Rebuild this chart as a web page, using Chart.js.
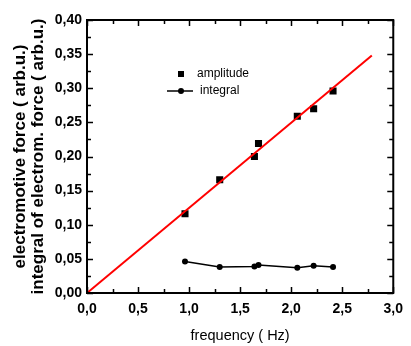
<!DOCTYPE html>
<html>
<head>
<meta charset="utf-8">
<script src="https://cdn.jsdelivr.net/npm/chart.js@4.4.1/dist/chart.umd.min.js"></script>
<style>
  html, body { margin: 0; padding: 0; background: #fff; }
  canvas { display: block; }
</style>
</head>
<body>
<canvas id="chart" width="411" height="346"></canvas>
<script>
// measured points
const freq = [0.96, 1.30, 1.64, 1.68, 2.06, 2.22, 2.41];
const amplitude = [0.116, 0.166, 0.200, 0.219, 0.259, 0.270, 0.296];
const integral = [0.046, 0.038, 0.039, 0.041, 0.037, 0.040, 0.038];
// linear fit of amplitude
const fitX = [0, 2.79];
const fitY = [0, 0.348];

const FONT = "'Liberation Sans', Arial, sans-serif";
Chart.defaults.font.family = FONT;
Chart.defaults.color = '#000';

const comma = (v, d) => v.toFixed(d).replace('.', ',');

// frame with inward ticks on all four sides + legend inside the plot
const framePlugin = {
  id: 'frame',
  afterDraw(chart) {
    const { ctx, chartArea: a, scales: { x, y } } = chart;
    ctx.save();
    ctx.strokeStyle = '#000';
    ctx.lineWidth = 1.5;
    for (let v = 0; v <= 3.0001; v += 0.25) {
      const px = Math.round(x.getPixelForValue(v)) + 0.5;
      const len = Math.abs(v / 0.5 - Math.round(v / 0.5)) < 1e-6 ? 6 : 4;
      ctx.beginPath();
      ctx.moveTo(px, a.bottom); ctx.lineTo(px, a.bottom - len);
      ctx.moveTo(px, a.top); ctx.lineTo(px, a.top + len);
      ctx.stroke();
    }
    for (let v = 0; v <= 0.40001; v += 0.025) {
      const py = Math.round(y.getPixelForValue(v)) + 0.5;
      const len = Math.abs(v / 0.05 - Math.round(v / 0.05)) < 1e-6 ? 6 : 4;
      ctx.beginPath();
      ctx.moveTo(a.left, py); ctx.lineTo(a.left + len, py);
      ctx.moveTo(a.right, py); ctx.lineTo(a.right - len, py);
      ctx.stroke();
    }
    ctx.lineWidth = 2;
    ctx.strokeRect(a.left, a.top, a.right - a.left, a.bottom - a.top);

    // legend
    ctx.fillStyle = '#000';
    ctx.fillRect(178, 71, 6, 6);
    ctx.lineWidth = 1.5;
    ctx.beginPath();
    ctx.moveTo(167, 91); ctx.lineTo(193, 91);
    ctx.stroke();
    ctx.beginPath();
    ctx.arc(181, 91, 3, 0, Math.PI * 2);
    ctx.fill();
    ctx.font = '12px ' + FONT;
    ctx.textBaseline = 'middle';
    ctx.fillText('amplitude', 197, 74);
    ctx.fillText('integral', 200, 91);
    ctx.restore();
  }
};

new Chart(document.getElementById('chart'), {
  type: 'scatter',
  data: {
    datasets: [
      {
        label: 'fit',
        data: fitX.map((v, i) => ({ x: v, y: fitY[i] })),
        showLine: true,
        borderColor: '#ff0000',
        borderWidth: 2,
        pointRadius: 0
      },
      {
        label: 'amplitude',
        data: freq.map((v, i) => ({ x: v, y: amplitude[i] })),
        pointStyle: 'rect',
        pointRadius: 5,
        backgroundColor: '#000',
        borderColor: '#000',
        borderWidth: 0
      },
      {
        label: 'integral',
        data: freq.map((v, i) => ({ x: v, y: integral[i] })),
        showLine: true,
        borderColor: '#000',
        borderWidth: 1.5,
        pointRadius: 3,
        backgroundColor: '#000',
        pointBorderWidth: 0
      }
    ]
  },
  options: {
    responsive: false,
    animation: false,
    devicePixelRatio: 1,
    layout: { padding: { top: 20, right: 12, left: 0, bottom: 0 } },
    plugins: { legend: { display: false }, tooltip: { enabled: false } },
    scales: {
      x: {
        type: 'linear', min: 0, max: 3,
        afterFit: s => { s.height = 53; },
        grid: { display: false, drawTicks: false },
        border: { display: false },
        ticks: {
          stepSize: 0.5, padding: 8,
          font: { size: 14, weight: 'bold' },
          callback: v => comma(v, 1)
        },
        title: {
          display: true, text: 'frequency ( Hz)',
          font: { size: 14.5 }, padding: { top: 0, bottom: 1 }
        }
      },
      y: {
        type: 'linear', min: 0, max: 0.4,
        afterFit: s => { s.width = 87; },
        grid: { display: false, drawTicks: false },
        border: { display: false },
        ticks: {
          stepSize: 0.05, padding: 5,
          font: { size: 14, weight: 'bold' },
          callback: v => comma(v, 2)
        },
        title: {
          display: true,
          text: ['electromotive force ( arb.u.)', 'integral of electrom. force ( arb.u.)'],
          font: { size: 17, weight: 'bold', lineHeight: '18px' },
          padding: { top: 11, bottom: 0 }
        }
      }
    }
  },
  plugins: [framePlugin]
});
</script>
</body>
</html>
